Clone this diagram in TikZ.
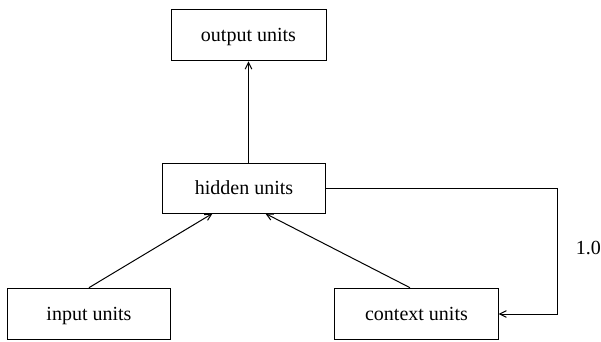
\documentclass[tikz,border=0pt]{standalone}
\usepackage{fontspec}
\setmainfont{Liberation Serif}
\usetikzlibrary{arrows.meta}

\tikzset{
	unit/.style={draw, line width=0.6pt, inner sep=0pt, text depth=0pt, font=\fontsize{12}{14}\selectfont},
	link/.style={->, line width=0.6pt}
}

\begin{document}
\begin{tikzpicture}[x=0.6pt, y=-0.6pt, >={Straight Barb[length=4pt, width=4pt]}]

\useasboundingbox (0, 0) rectangle (601, 341);

\node[unit, minimum width=93pt, minimum height=31pt] (output) at (248.5, 35) {output units};
\node[unit, minimum width=98pt, minimum height=30pt] (hidden) at (244, 188) {hidden units};
\node[unit, minimum width=98pt, minimum height=31pt] (input) at (89, 314) {input units};
\node[unit, minimum width=98pt, minimum height=31pt] (context) at (416.5, 314) {context units};

\draw[link] (output.south |- hidden.north) -- (output.south);
\draw[link] (input.north) -- (hidden.219);
\draw[link] (context.104) -- (hidden.310);

\coordinate (loop) at (557, 188);
\draw[link] (hidden.east) -- (loop) |- (context.east);
\node[right, font=\fontsize{12}{14}\selectfont] (weight) at (570, 248) {1.0};

\end{tikzpicture}
\end{document}
